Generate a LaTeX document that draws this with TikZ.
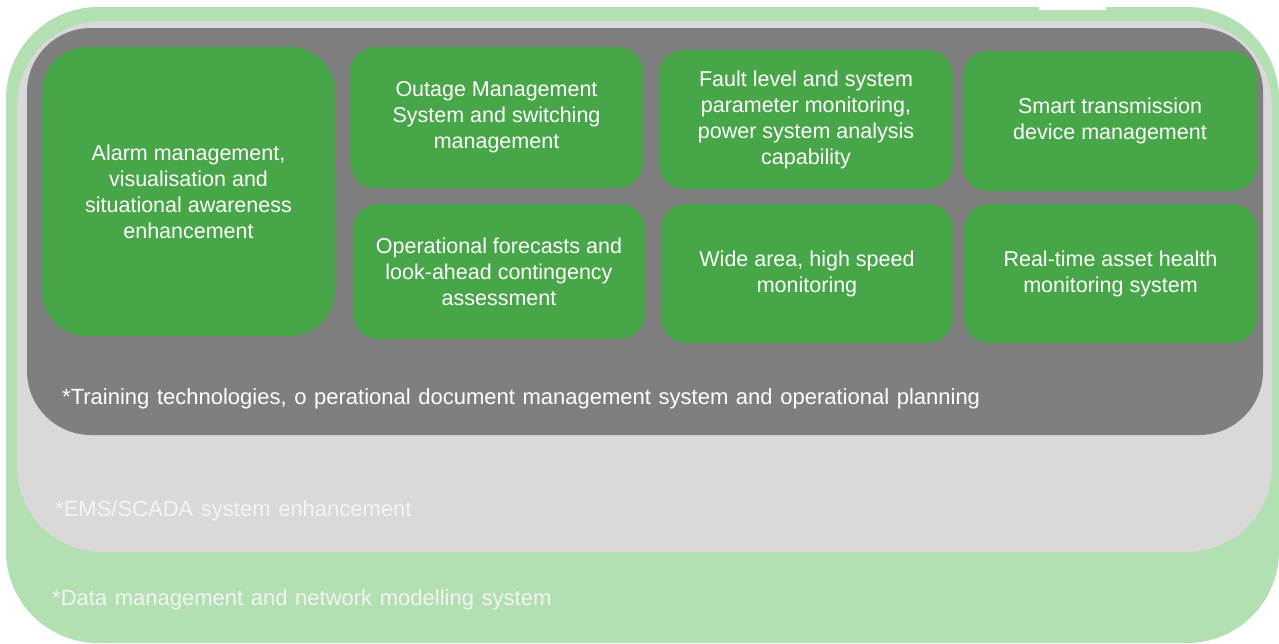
\documentclass[tikz,border=0pt]{standalone}
\usepackage{fontspec}
\setmainfont{Liberation Sans}
\newfontfamily\captionfamily[WordSpace=1.25]{Liberation Sans}
\definecolor{layergreen}{HTML}{B2E0B2}
\definecolor{layerlight}{HTML}{D9D9D9}
\definecolor{layerdark}{HTML}{7F7F7F}
\definecolor{tilegreen}{HTML}{47A647}
\definecolor{softwhite}{HTML}{F4F4F4}
\newcommand{\tilefont}{\fontsize{21.5}{26}\selectfont}
\newcommand{\captionfont}{\captionfamily\fontsize{22}{26}\selectfont}
\tikzset{
  tile/.style={fill=tilegreen, rounded corners=25pt, text=white, align=center,
    font=\tilefont, inner sep=0pt},
  layerlabel/.style={anchor=base west, font=\captionfont, inner sep=0pt}
}
\begin{document}
\begin{tikzpicture}[x=1pt,y=-1pt]
\useasboundingbox (0,0) rectangle (1279,643);
% nested layers, outermost first
\fill[layergreen, rounded corners=92pt] (6,7) rectangle (1279,643);
\fill[white] (1039,0) rectangle (1106,10);
\fill[layerlight, rounded corners=85pt] (17,21) rectangle (1272,552);
\fill[layerdark, rounded corners=64pt] (27,28) rectangle (1263,435);
% function tiles
\node[tile, rounded corners=45pt, minimum width=293pt, minimum height=289pt] (alarm) at (188.5,191.5)
  {Alarm management,\\visualisation and\\situational awareness\\enhancement};
\node[tile, minimum width=293pt, minimum height=141pt] (outage) at (496.5,117.5)
  {Outage Management\\System and switching\\management};
\node[tile, minimum width=294pt, minimum height=139pt] (fault) at (806,119.5)
  {Fault level and system\\parameter monitoring,\\power system analysis\\capability};
\node[tile, minimum width=294pt, minimum height=140pt] (smart) at (1110,121)
  {Smart transmission\\device management};
\node[tile, minimum width=292pt, minimum height=135pt] (forecast) at (499,271.5)
  {Operational forecasts and\\look-ahead contingency\\assessment};
\node[tile, minimum width=292pt, minimum height=139pt] (widearea) at (807,273.5)
  {Wide area, high speed\\monitoring};
\node[tile, minimum width=293pt, minimum height=139pt] (health) at (1110.5,273.5)
  {Real-time asset health\\monitoring system};
% layer captions
\node[layerlabel, text=white] (training) at (62,404)
  {*Training technologies, o perational document management system and operational planning};
\node[layerlabel, text=softwhite] (ems) at (55,516) {*EMS/SCADA system enhancement};
\node[layerlabel, text=softwhite] (data) at (52,605) {*Data management and network modelling system};
\end{tikzpicture}
\end{document}
